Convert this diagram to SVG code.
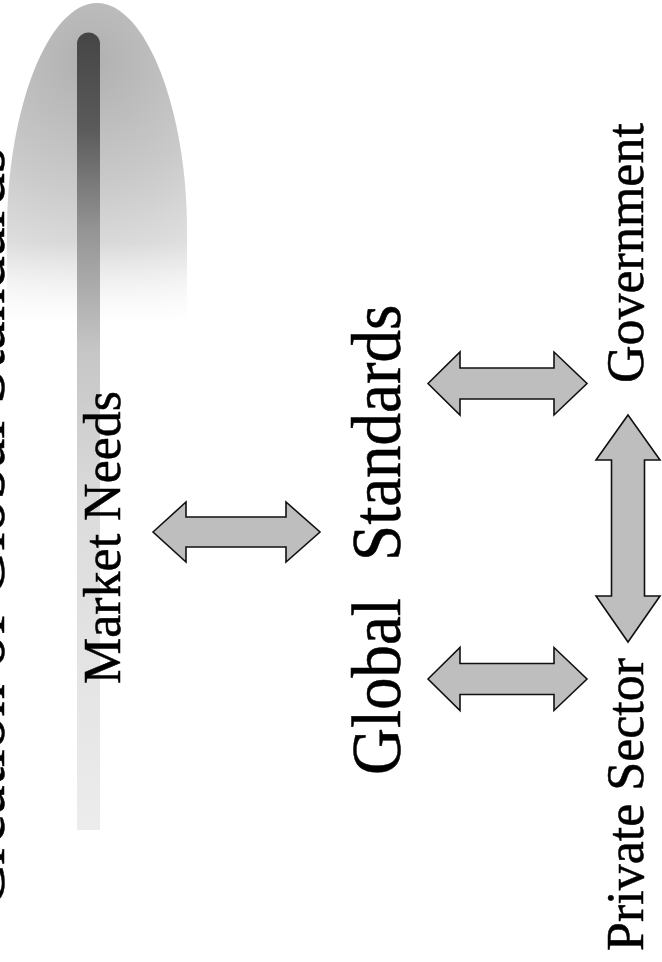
<svg xmlns="http://www.w3.org/2000/svg" width="662" height="962" viewBox="0 0 662 962">
<style>
.lbl{font-family:"Liberation Serif","Times New Roman",serif;fill:#000;stroke:#000;stroke-width:0.5;}
.arrow{fill:#bebebe;stroke:#111;stroke-width:1.6;stroke-linejoin:miter;}
</style>
<defs>
<radialGradient id="dome" cx="90" cy="60" r="280" gradientUnits="userSpaceOnUse">
<stop offset="0" stop-color="#b0b0b0"/>
<stop offset="0.45" stop-color="#cacaca"/>
<stop offset="0.8" stop-color="#e4e4e4"/>
<stop offset="1" stop-color="#f6f6f6"/>
</radialGradient>
<linearGradient id="fade" x1="0" y1="0" x2="0" y2="1">
<stop offset="0" stop-color="#fff" stop-opacity="1"/>
<stop offset="0.75" stop-color="#fff" stop-opacity="1"/>
<stop offset="1" stop-color="#fff" stop-opacity="0"/>
</linearGradient>
<mask id="domemask"><rect x="0" y="0" width="200" height="325" fill="url(#fade)"/></mask>
<linearGradient id="bar" x1="0" y1="32" x2="0" y2="830" gradientUnits="userSpaceOnUse">
<stop offset="0" stop-color="#454545"/>
<stop offset="0.12" stop-color="#5a5a5a"/>
<stop offset="0.25" stop-color="#959595"/>
<stop offset="0.4" stop-color="#c6c6c6"/>
<stop offset="0.6" stop-color="#dcdcdc"/>
<stop offset="1" stop-color="#ececec"/>
</linearGradient>
</defs>
<g id="decoration">
<path d="M7,322 L7,230 C7,110 48,3 97,3 C146,3 187,110 187,230 L187,322 Z" fill="url(#dome)" mask="url(#domemask)"/>
<path d="M77,830 L77,44 A11.5,11.5 0 0 1 100,44 L100,830 Z" fill="url(#bar)"/>
</g>
<g id="title">
<text class="lbl" font-size="65" transform="translate(4,908) rotate(-90)">Creation of Global Standards</text>
</g>
<g id="connectors">
<path class="arrow" d="M153,532 L186,502 L186,517 L286,517 L286,502 L320,532 L286,562 L286,547 L186,547 L186,562 Z"/>
<path class="arrow" d="M428,383.5 L460,352 L460,368 L554,368 L554,352 L587,383.5 L554,415 L554,399 L460,399 L460,415 Z"/>
<path class="arrow" d="M428,679 L460,647.5 L460,663.5 L554,663.5 L554,647.5 L587,679 L554,710.5 L554,694.5 L460,694.5 L460,710.5 Z"/>
<path class="arrow" d="M628,415 L660,460 L644.5,460 L644.5,596 L660,596 L628,642 L596,596 L611.5,596 L611.5,460 L596,460 Z"/>
</g>
<g id="market-needs">
<text class="lbl" font-size="52" transform="translate(120,684) rotate(-90) scale(1,1.03)">Market Needs</text>
</g>
<g id="global-standards">
<text class="lbl" font-size="65" transform="translate(400,775) rotate(-90) scale(1,1.06)">Global</text>
<text class="lbl" font-size="65" transform="translate(400,561) rotate(-90) scale(1,1.06)">Standards</text>
</g>
<g id="private-sector">
<text class="lbl" font-size="52" transform="translate(643,951) rotate(-90) scale(1,1.03)">Private Sector</text>
</g>
<g id="government">
<text class="lbl" font-size="52" transform="translate(643,383) rotate(-90) scale(1,1.03)">Government</text>
</g>
</svg>
